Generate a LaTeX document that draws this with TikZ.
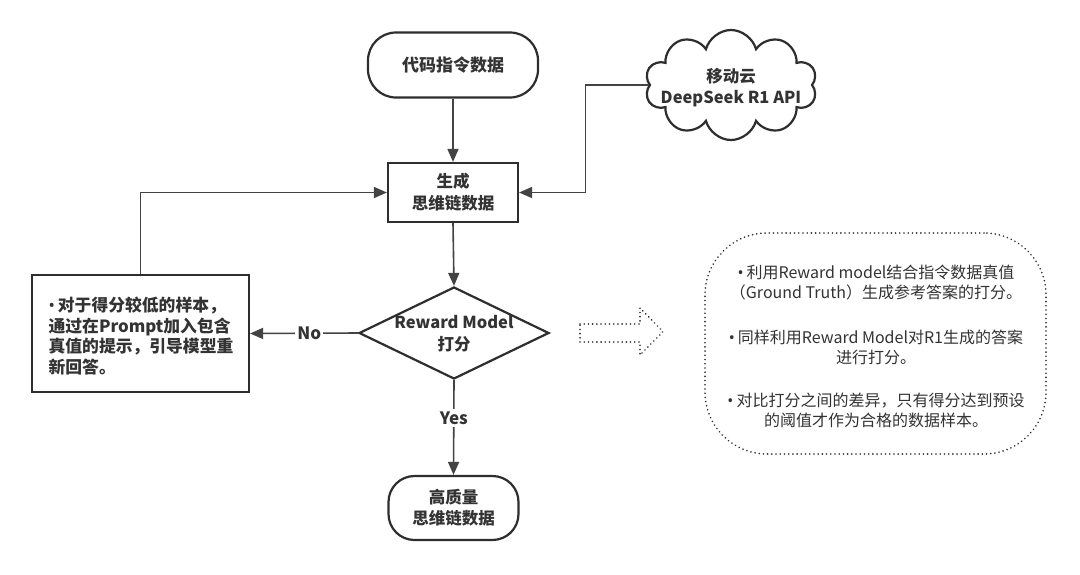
\documentclass[tikz,border=0pt]{standalone}
\usepackage{fontspec}
\setmainfont{Noto Sans CJK SC}
\newfontfamily\bulfont{Noto Sans}
\newcommand\bul{{\bulfont •}\hspace{3pt}}
\usetikzlibrary{arrows.meta,shapes.geometric,shapes.symbols,positioning}
\definecolor{ink}{HTML}{2E2E2E}
\definecolor{txt}{HTML}{333333}
\tikzset{
  boxline/.style={draw=ink,line width=2.2pt,fill=white},
  term/.style={boxline,rectangle,rounded corners=28pt,inner sep=0pt},
  procbox/.style={boxline,rectangle,inner sep=0pt},
  conn/.style={draw=ink!90,line width=1.6pt},
  arr/.style={conn,-{Triangle[length=13pt,width=11pt]}},
  lbl/.style={font=\bfseries\fontsize{17}{22}\selectfont,text=txt,align=center},
  dots/.style={draw=ink,line width=1.8pt,dash pattern=on 0.01pt off 4.2pt,line cap=round},
  rtext/.style={font=\fontsize{16}{20}\selectfont,text=txt,align=center},
}
\begin{document}
\begin{tikzpicture}[x=1pt,y=-1pt]
\useasboundingbox[fill=white] (0,0) rectangle (1080,574);
% nodes
\node[term,minimum width=170pt,minimum height=65pt] (src) at (453,65) {};
\node[lbl] (srct) at (src) {代码指令数据};
\node[draw=ink,line width=2.2pt,cloud,cloud puffs=10,aspect=1.6,minimum width=172pt,minimum height=110pt,inner sep=0pt] (cl) at (731,85) {};
\node[lbl,font=\bfseries\fontsize{16.5}{21}\selectfont] (clt) at (731,88) {移动云\\DeepSeek R1 API};
\node[procbox,minimum width=130pt,minimum height=59pt] (gen) at (453,192.5) {};
\node[lbl,font=\bfseries\fontsize{16.5}{22}\selectfont] (gent) at (gen) {生成\\思维链数据};
\node[boxline,diamond,minimum width=190pt,minimum height=92pt,inner sep=0pt] (rm) at (454,333) {};
\node[lbl,font=\bfseries\fontsize{16.5}{22}\selectfont] (rmt) at (454,334) {Reward Model\\打分};
\node[procbox,minimum width=217pt,minimum height=117pt] (fb) at (140.5,333.5) {};
\node[lbl,align=left,font=\bfseries\fontsize{16.8}{20.8}\selectfont] (fbt) at (141,336) {{\bfseries\bul}对于得分较低的样本，\\通过在Prompt加入包含\\真值的提示，引导模型重\\新回答。};
\node[term,rounded corners=26pt,minimum width=130pt,minimum height=64pt] (hq) at (453.5,508) {};
\node[lbl,font=\bfseries\fontsize{16.5}{21}\selectfont] (hqt) at (hq) {高质量\\思维链数据};
% connectors
\draw[arr] (src.south) -- (gen.north);
\draw[arr] (cl.west) -- ++(-63,0) |- (gen.east);
\draw[arr] (gen.south) -- (rm.north);
\draw[arr] (fb.north) |- (gen.west);
\draw[arr] (rm.west) -- node[lbl,fill=white,inner sep=2pt,pos=0.45] (no) {No} (fb.east);
\draw[arr] (rm.south) -- node[lbl,fill=white,inner sep=3pt,pos=0.4] (yes) {Yes} (hq.north);
% dotted arrow
\draw[dots] (580,324) -- (640,324) -- (640,308) -- (663,331.5) -- (640,355) -- (640,342) -- (580,342) -- cycle;
% dotted note
\node[dots,rectangle,rounded corners=62pt,minimum width=341pt,minimum height=221pt] (note) at (875.5,343.5) {};
\node[rtext] (n1) at (876,283) {\bul 利用Reward model结合指令数据真值\\（Ground Truth）生成参考答案的打分。};
\node[rtext] (n2) at (876,347) {\bul 同样利用Reward Model对R1生成的答案\\进行打分。};
\node[rtext] (n3) at (876,410) {\bul 对比打分之间的差异，只有得分达到预设\\的阈值才作为合格的数据样本。};
\end{tikzpicture}
\end{document}
